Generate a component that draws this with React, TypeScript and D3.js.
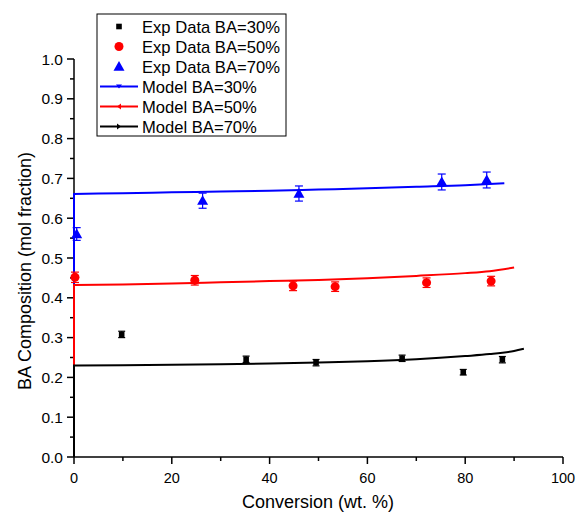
import React from "react";
import * as d3 from "d3";

// ---- data ----
const exp30X = [9.75, 35.2, 49.5, 67.1, 79.6, 87.6];
const exp30Y = [0.308, 0.2455, 0.237, 0.248, 0.213, 0.2445];
const exp30Err = [0.008, 0.008, 0.008, 0.008, 0.007, 0.008];

const exp50X = [0.2, 24.7, 44.8, 53.4, 72.1, 85.3];
const exp50Y = [0.4515, 0.444, 0.43, 0.428, 0.438, 0.442];
const exp50Err = [0.013, 0.012, 0.012, 0.012, 0.012, 0.012];

const exp70X = [0.55, 26.3, 46.0, 75.2, 84.4];
const exp70Y = [0.5603, 0.644, 0.662, 0.691, 0.696];
const exp70Err = [0.016, 0.019, 0.019, 0.02, 0.02];

const modelBlueX = [0, 0, 10, 20, 30, 40, 50, 60, 70, 80, 88];
const modelBlueY = [0, 0.661, 0.663, 0.665, 0.667, 0.669, 0.672, 0.675, 0.679, 0.683, 0.688];
const modelRedX = [0, 0, 10, 20, 30, 40, 50, 60, 70, 80, 85, 90];
const modelRedY = [0, 0.432, 0.4335, 0.436, 0.439, 0.442, 0.445, 0.449, 0.455, 0.462, 0.467, 0.476];
const modelBlackX = [0, 0, 10, 20, 30, 40, 50, 60, 70, 80, 85, 90, 92];
const modelBlackY = [0, 0.23, 0.2305, 0.2315, 0.233, 0.235, 0.2375, 0.2405, 0.2455, 0.2535, 0.2585, 0.2665, 0.272];

const xTicks = [0, 20, 40, 60, 80, 100];
const xMinor = [10, 30, 50, 70, 90];
const yTicks = [0, 0.1, 0.2, 0.3, 0.4, 0.5, 0.6, 0.7, 0.8, 0.9, 1.0];
const yMinor = [0.05, 0.15, 0.25, 0.35, 0.45, 0.55, 0.65, 0.75, 0.85, 0.95];

const legendLabels = [
  "Exp Data BA=30%",
  "Exp Data BA=50%",
  "Exp Data BA=70%",
  "Model BA=30%",
  "Model BA=50%",
  "Model BA=70%",
];

const BLUE = "#0000ff";
const RED = "#ff0000";
const BLACK = "#000000";
const FONT = "'Liberation Sans', Arial, sans-serif";

export default function App() {
  const W = 576, H = 513;
  const x = d3.scaleLinear().domain([0, 100]).range([74, 563]);
  const y = d3.scaleLinear().domain([0, 1]).range([457, 59]);
  const line = d3.line<[number, number]>().x(d => x(d[0])).y(d => y(d[1])).curve(d3.curveMonotoneX);
  const lineLin = d3.line<[number, number]>().x(d => x(d[0])).y(d => y(d[1]));

  const mkPath = (xs: number[], ys: number[]) => {
    const pts: [number, number][] = xs.map((v, i) => [v, ys[i]]);
    const vert = lineLin(pts.slice(0, 2)) as string;
    const curve = line(pts.slice(1)) as string;
    return vert + curve.replace(/^M/, "L");
  };

  const errBar = (cx: number, cy: number, e: number, color: string, cap: number, key: string) => {
    const yt = y(cy + e), yb = y(cy - e);
    return (
      <g key={key} stroke={color} strokeWidth={1.2}>
        <line x1={x(cx)} x2={x(cx)} y1={yt} y2={yb} />
        <line x1={x(cx) - cap} x2={x(cx) + cap} y1={yt} y2={yt} />
        <line x1={x(cx) - cap} x2={x(cx) + cap} y1={yb} y2={yb} />
      </g>
    );
  };

  const tri = (cx: number, cy: number, s: number) =>
    `M${cx},${cy - s} L${cx + s * 1.0},${cy + s * 0.75} L${cx - s * 1.0},${cy + s * 0.75} Z`;

  const legX = 97, legY = 14, legW = 189, legH = 122;
  const rowY = (i: number) => legY + 12.5 + i * 20;

  return (
    <svg width={W} height={H} style={{ position: "absolute", left: 0, top: 0, background: "#fff" }} fontFamily={FONT}>
      <rect x={0} y={0} width={W} height={H} fill="#fff" />
      {/* axes */}
      <g stroke="#000" strokeWidth={1.5}>
        <line x1={x(0)} x2={x(100)} y1={y(0)} y2={y(0)} />
        <line x1={x(0)} x2={x(0)} y1={y(0)} y2={y(1)} />
        {xTicks.map(t => <line key={"xt" + t} x1={x(t)} x2={x(t)} y1={y(0)} y2={y(0) + 7} />)}
        {xMinor.map(t => <line key={"xm" + t} x1={x(t)} x2={x(t)} y1={y(0)} y2={y(0) + 4} />)}
        {yTicks.map(t => <line key={"yt" + t} x1={x(0) - 7} x2={x(0)} y1={y(t)} y2={y(t)} />)}
        {yMinor.map(t => <line key={"ym" + t} x1={x(0) - 4} x2={x(0)} y1={y(t)} y2={y(t)} />)}
      </g>
      <g fill="#000">
        {xTicks.map(t => (
          <text key={"xl" + t} x={x(t)} y={y(0) + 26} fontSize={14.5} textAnchor="middle">{t}</text>
        ))}
        {yTicks.map(t => (
          <text key={"yl" + t} x={x(0) - 11} y={y(t) + 5.5} fontSize={15.5} textAnchor="end">{t.toFixed(1)}</text>
        ))}
      </g>
      <text x={318} y={508} fontSize={18} textAnchor="middle">Conversion (wt. %)</text>
      <text transform={`translate(31,271) rotate(-90)`} fontSize={18} textAnchor="middle">BA Composition (mol fraction)</text>

      {/* model lines */}
      <path d={mkPath(modelBlueX, modelBlueY)} fill="none" stroke={BLUE} strokeWidth={2} />
      <path d={mkPath(modelRedX, modelRedY)} fill="none" stroke={RED} strokeWidth={2} />
      <path d={mkPath(modelBlackX, modelBlackY)} fill="none" stroke={BLACK} strokeWidth={2} />

      {/* experimental data */}
      {exp30X.map((v, i) => (
        <g key={"e30" + i}>
          {errBar(v, exp30Y[i], exp30Err[i], BLACK, 3.5, "b30" + i)}
          <rect x={x(v) - 2.8} y={y(exp30Y[i]) - 2.8} width={5.6} height={5.6} fill={BLACK} />
        </g>
      ))}
      {exp50X.map((v, i) => (
        <g key={"e50" + i}>
          {errBar(v, exp50Y[i], exp50Err[i], RED, 4, "b50" + i)}
          <circle cx={x(v)} cy={y(exp50Y[i])} r={4.5} fill={RED} />
        </g>
      ))}
      {exp70X.map((v, i) => (
        <g key={"e70" + i}>
          {errBar(v, exp70Y[i], exp70Err[i], BLUE, 4, "b70" + i)}
          <path d={tri(x(v), y(exp70Y[i]), 5.5)} fill={BLUE} />
        </g>
      ))}

      {/* legend */}
      <rect x={legX} y={legY} width={legW} height={legH} fill="#fff" stroke="#000" strokeWidth={1} />
      <rect x={119 - 2.8} y={rowY(0) - 2.8} width={5.6} height={5.6} fill={BLACK} />
      <circle cx={119} cy={rowY(1)} r={4.5} fill={RED} />
      <path d={tri(119, rowY(2), 5.5)} fill={BLUE} />
      <line x1={100} x2={138} y1={rowY(3)} y2={rowY(3)} stroke={BLUE} strokeWidth={2} />
      <path d={`M116,${rowY(3) - 2} L122,${rowY(3) - 2} L119,${rowY(3) + 2} Z`} fill={BLUE} />
      <line x1={100} x2={138} y1={rowY(4)} y2={rowY(4)} stroke={RED} strokeWidth={2} />
      <path d={`M117,${rowY(4)} L121,${rowY(4) - 3} L121,${rowY(4) + 3} Z`} fill={RED} />
      <line x1={100} x2={138} y1={rowY(5)} y2={rowY(5)} stroke={BLACK} strokeWidth={2} />
      <path d={`M121,${rowY(5)} L117,${rowY(5) - 3} L117,${rowY(5) + 3} Z`} fill={BLACK} />
      <g fontSize={16.6} fill="#000">
        {legendLabels.map((l, i) => (
          <text key={l} x={142} y={rowY(i) + 6}>{l}</text>
        ))}
      </g>
    </svg>
  );
}
